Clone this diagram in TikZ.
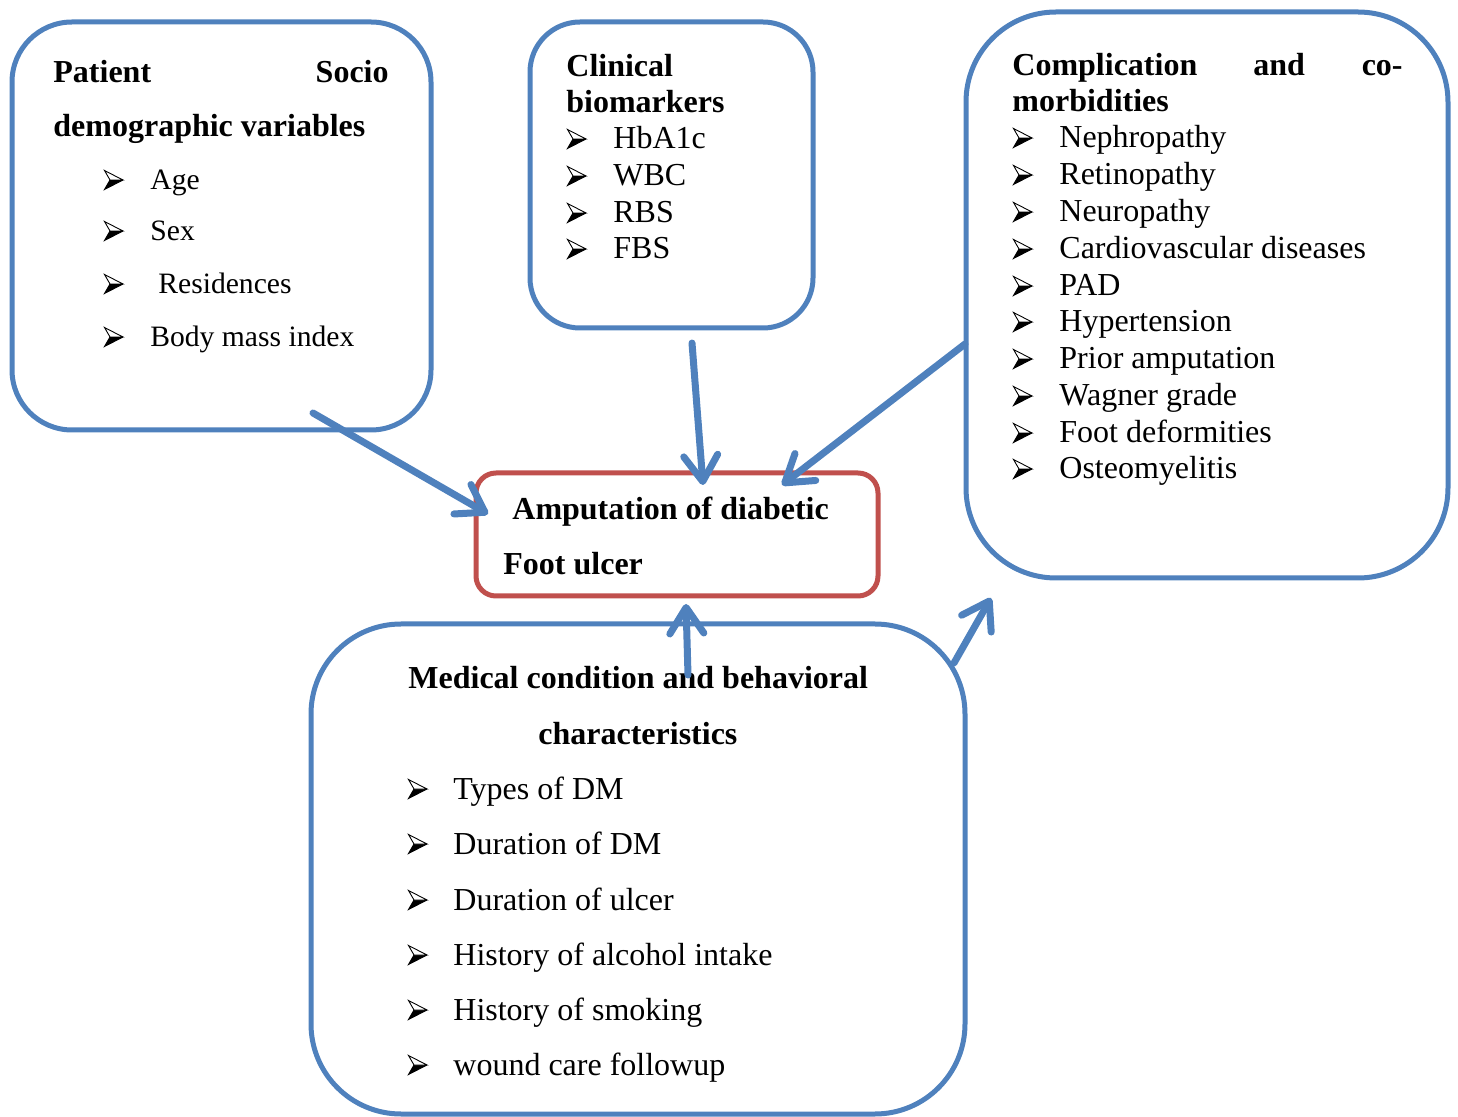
\documentclass[tikz,border=0pt]{standalone}
\usepackage{fontspec}
\setmainfont{Liberation Serif}
\usetikzlibrary{arrows.meta}
\definecolor{boxblue}{HTML}{4F81BD}
\definecolor{boxred}{HTML}{C0504D}
\tikzset{
  bluebox/.style={draw=boxblue, line width=2.5pt, rounded corners=#1, inner sep=0pt, fill=white},
  redbox/.style={draw=boxred, line width=2.5pt, rounded corners=#1, inner sep=0pt},
  txt/.style={anchor=base west, inner sep=0pt, font=\fontsize{16}{19}\selectfont},
  txtl/.style={anchor=base west, inner sep=0pt, font=\fontsize{14.8}{18}\selectfont},
  ttl/.style={anchor=base west, inner sep=0pt, font=\fontsize{16}{19}\selectfont\bfseries},
  ttle/.style={anchor=base east, inner sep=0pt, font=\fontsize{16}{19}\selectfont\bfseries},
  conn/.style={draw=boxblue, line width=3.5pt, line cap=round,
    -{Straight Barb[length=13pt,width=17pt,round]}},
  bulletpic/.pic={
    \fill[black] (6,-10) -- (19,-10) -- (0.5,-0.5) -- cycle;
    \draw[black, line width=0.45pt, line join=miter, fill=white] (0.5,-19.5) -- (19,-10) -- (6,-10) -- cycle;
    \draw[black, line width=0.45pt, line join=miter] (6,-10) -- (0.5,-0.5) -- (19,-10);
  }
}
\begin{document}
\begin{tikzpicture}[x=0.5pt,y=-0.5pt]
\useasboundingbox (0,0) rectangle (1458,1117);

% boxes
\node[bluebox=30pt, minimum width=209.5pt, minimum height=204pt] (patient) at (221.5,226) {};
\node[bluebox=25pt, minimum width=141.5pt, minimum height=153pt] (clinical) at (671.5,175) {};
\node[bluebox=45pt, minimum width=241pt, minimum height=283pt] (complic) at (1207,295) {};
\node[bluebox=45pt, minimum width=327pt, minimum height=245pt] (medical) at (638,869) {};
\node[redbox=10pt, minimum width=201pt, minimum height=61.5pt] (outcome) at (677,534.5) {};

% box 1 text
\node[ttl] (p1) at (53,83) {Patient};
\node[ttle] (p2) at (389,83) {Socio};
\node[ttl] (p3) at (53,137) {demographic variables};
\foreach \t/\y/\x [count=\i] in {Age/190/150, Sex/241/150, Residences/294/158, Body mass index/347/150}{
  \pic at (104,\y) {bulletpic};
  \node[txtl] (pt\i) at (\x,\y) {\t};
}

% box 2 text
\node[ttl] (c1) at (566,77) {Clinical};
\node[ttl] (c2) at (566,113) {biomarkers};
\foreach \t/\y [count=\i] in {HbA1c/149, WBC/186, RBS/223, FBS/259}{
  \pic at (567,\y) {bulletpic};
  \node[txt] (ct\i) at (613,\y) {\t};
}

% box 3 text
\node[ttl] (k1) at (1012,76) {Complication};
\node[ttl] (k2) at (1253,76) {and};
\node[ttle] (k3) at (1403,76) {co-};
\node[ttl] (k4) at (1012,112) {morbidities};
\foreach \t/\y [count=\i] in {Nephropathy/148, Retinopathy/185, Neuropathy/222, Cardiovascular diseases/259, PAD/296, Hypertension/332, Prior amputation/369, Wagner grade/406, Foot deformities/443, Osteomyelitis/479}{
  \pic at (1013,\y) {bulletpic};
  \node[txt] (kt\i) at (1059,\y) {\t};
}

% box 4 text
\node[ttl] (m1) at (408,689) {Medical condition and behavioral};
\node[ttl] (m2) at (538,745) {characteristics};
\foreach \t/\y [count=\i] in {Types of DM/799, Duration of DM/854, Duration of ulcer/910, History of alcohol intake/965, History of smoking/1020, wound care followup/1075}{
  \pic at (408,\y) {bulletpic};
  \node[txt] (mt\i) at (453,\y) {\t};
}

% outcome text
\node[ttl] (o1) at (512,520) {Amputation of diabetic};
\node[ttl] (o2) at (503,575) {Foot ulcer};

% connector end points
\coordinate (a1s) at (313,413); \coordinate (a1e) at (488,514);
\coordinate (a2s) at (692,343); \coordinate (a2e) at (703,485);
\coordinate (a3s) at (965,344); \coordinate (a3e) at (782,485);
\coordinate (a4s) at (688,675); \coordinate (a4e) at (686,604);
\coordinate (a5s) at (954,663); \coordinate (a5e) at (991,598);

\draw[conn] (a1s) -- (a1e);
\draw[conn] (a2s) -- (a2e);
\draw[conn] (a3s) -- (a3e);
\draw[conn] (a4s) -- (a4e);
\draw[conn] (a5s) -- (a5e);
\end{tikzpicture}
\end{document}
